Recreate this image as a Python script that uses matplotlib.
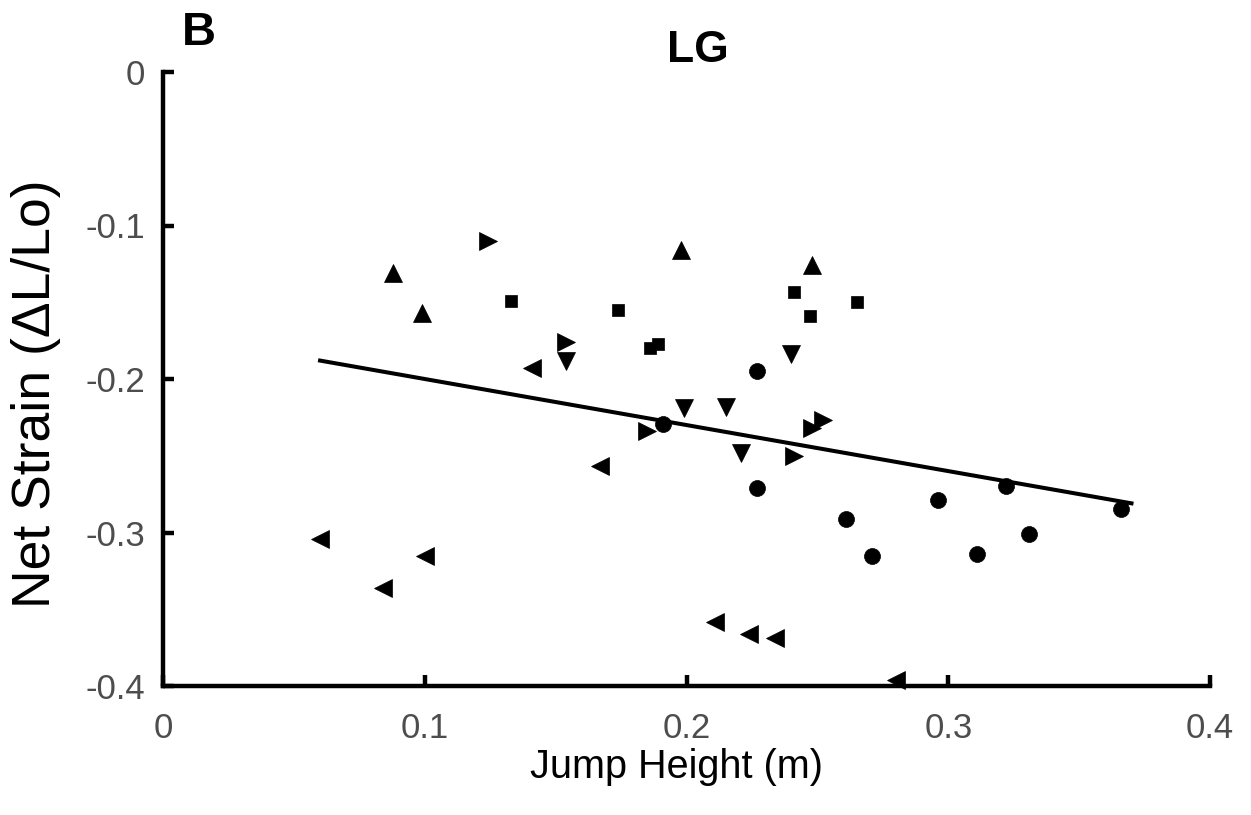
import numpy as np
import matplotlib
matplotlib.use("Agg")
import matplotlib.pyplot as plt

plt.rcParams['font.family'] = ['Liberation Sans', 'DejaVu Sans']
plt.rcParams['axes.unicode_minus'] = False

# jump height (m) and net strain for each subject, one marker per subject
circle_x = [0.227, 0.191, 0.227, 0.261, 0.271, 0.296, 0.311, 0.322, 0.331, 0.366]
circle_y = [-0.195, -0.229, -0.271, -0.291, -0.315, -0.279, -0.314, -0.270, -0.301, -0.285]

square_x = [0.133, 0.174, 0.186, 0.189, 0.241, 0.247, 0.265]
square_y = [-0.149, -0.155, -0.180, -0.177, -0.143, -0.159, -0.150]

up_x = [0.088, 0.099, 0.198, 0.248]
up_y = [-0.131, -0.157, -0.116, -0.126]

down_x = [0.154, 0.199, 0.215, 0.221, 0.240]
down_y = [-0.188, -0.219, -0.218, -0.248, -0.184]

right_x = [0.124, 0.154, 0.185, 0.241, 0.248, 0.252]
right_y = [-0.110, -0.176, -0.234, -0.250, -0.232, -0.227]

left_x = [0.060, 0.084, 0.100, 0.141, 0.167, 0.211, 0.224, 0.234, 0.280]
left_y = [-0.304, -0.336, -0.315, -0.193, -0.257, -0.358, -0.366, -0.369, -0.396]

# regression line end points
fit_x = [0.060, 0.370]
fit_y = [-0.188, -0.281]

xticks = [0, 0.1, 0.2, 0.3, 0.4]
xticklabels = ['0', '0.1', '0.2', '0.3', '0.4']
yticks = [0, -0.1, -0.2, -0.3, -0.4]
yticklabels = ['0', '-0.1', '-0.2', '-0.3', '-0.4']

fig = plt.figure(figsize=(12.51, 8.15), dpi=100)
ax = fig.add_axes([163 / 1251, 1 - 686 / 815, (1210 - 163) / 1251, (686 - 72) / 815])

mk = dict(linestyle='none', color='black', markeredgewidth=0.5, clip_on=False)
ax.plot(circle_x, circle_y, marker='o', markersize=11.5, **mk)
ax.plot(square_x, square_y, marker='s', markersize=8.6, **mk)
ax.plot(up_x, up_y, marker='^', markersize=12.5, **mk)
ax.plot(down_x, down_y, marker='v', markersize=12.5, **mk)
ax.plot(right_x, right_y, marker='>', markersize=12.5, **mk)
ax.plot(left_x, left_y, marker='<', markersize=12.5, **mk)
ax.plot(fit_x, fit_y, color='black', linewidth=2.9)

ax.set_xlim(0, 0.4)
ax.set_ylim(-0.4, 0)
ax.set_xticks(xticks)
ax.set_xticklabels(xticklabels)
ax.set_yticks(yticks)
ax.set_yticklabels(yticklabels)

for side in ['top', 'right']:
    ax.spines[side].set_visible(False)
for side in ['left', 'bottom']:
    ax.spines[side].set_linewidth(3.2)
    ax.spines[side].set_capstyle('projecting')

ax.tick_params(direction='in', length=8, width=3.2, labelsize=25, labelcolor='#4d4d4d', color='black')
ax.tick_params(axis='x', pad=19)
ax.tick_params(axis='y', pad=13)

fig.text(676 / 1251, 1 - 778 / 815, 'Jump Height (m)', fontsize=28.5, ha='center', va='baseline')
fig.text(50 / 1251, 1 - 394 / 815, 'Net Strain (\u0394L/Lo)', fontsize=38.5, rotation=90,
         rotation_mode='anchor', ha='center', va='baseline')
fig.text(698 / 1251, 1 - 62 / 815, 'LG', fontsize=32, fontweight='bold', ha='center', va='baseline')
fig.text(182 / 1251, 1 - 45 / 815, 'B', fontsize=34, fontweight='bold', ha='left', va='baseline')

fig.savefig('out.png', dpi=100, facecolor='white')
